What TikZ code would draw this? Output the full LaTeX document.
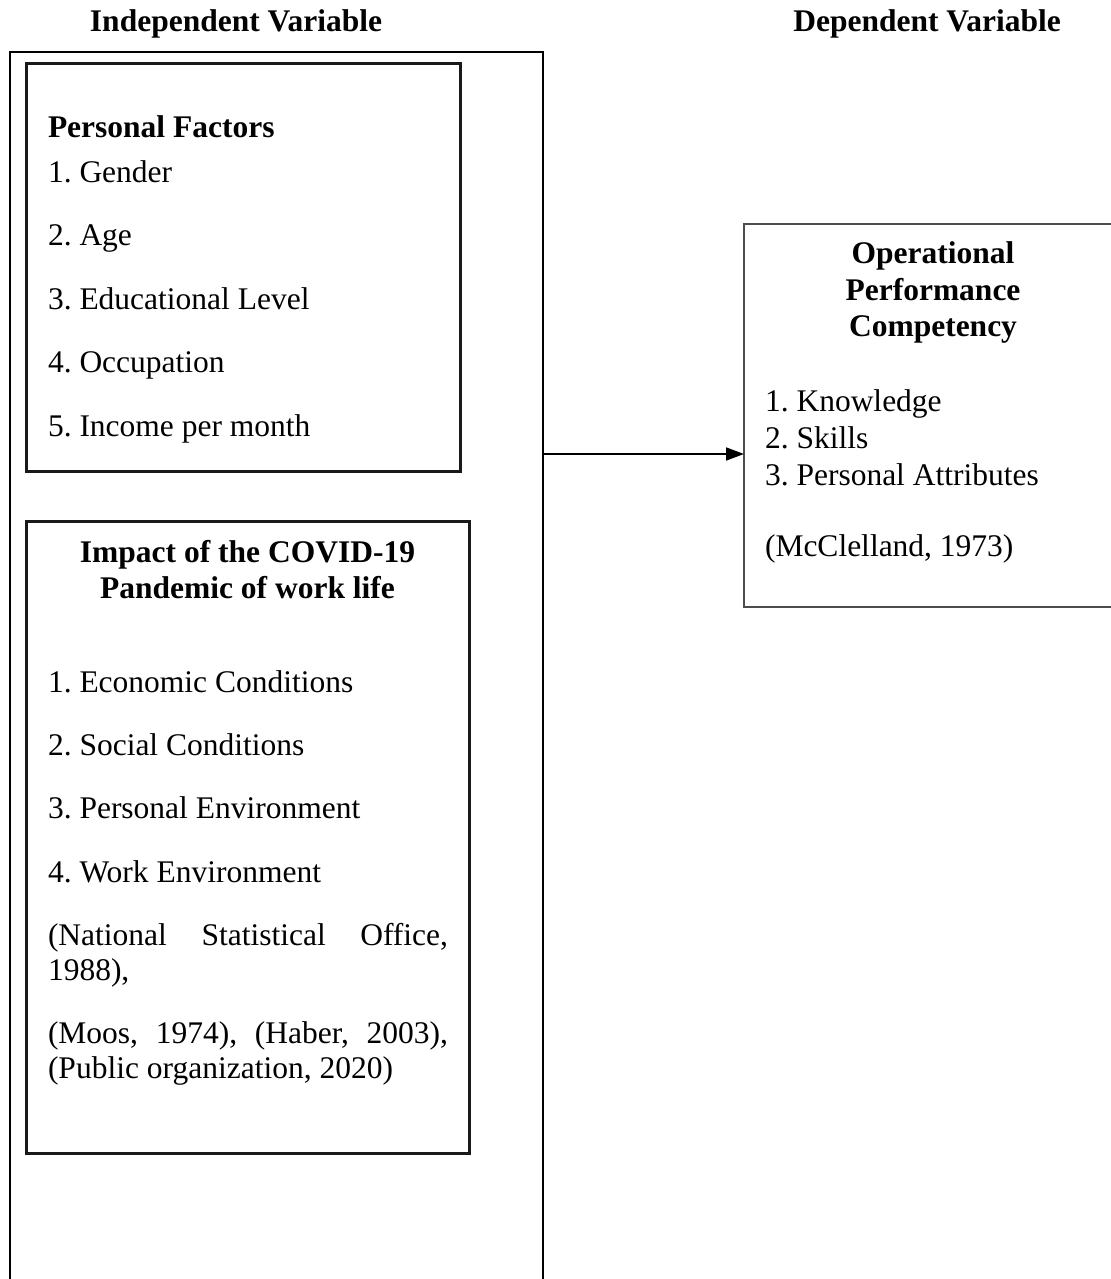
\documentclass[tikz,border=0pt]{standalone}
\usepackage{fontspec}
\setmainfont{Liberation Serif}
\usetikzlibrary{arrows.meta}
\frenchspacing
\begin{document}
\begin{tikzpicture}[x=0.5pt, y=-0.5pt,
  txt/.style={inner sep=0pt, outer sep=0pt, anchor=base west,
    font=\fontsize{15.75}{18.5}\selectfont},
  ctxt/.style={txt, anchor=base},
  btxt/.style={ctxt, font=\fontsize{15.75}{18.5}\selectfont\bfseries},
  outerline/.style={line width=1.1pt, black},
  innerline/.style={line width=1.5pt, black!90},
  depline/.style={line width=0.6pt, black!70},
  link/.style={line width=0.8pt, -{Triangle[length=9pt,width=6.5pt]}}]
\useasboundingbox (0,0) rectangle (1110,1279);

% column headings
\node[btxt] (indep) at (236,32) {Independent Variable};
\node[btxt] (dep) at (927,32) {Dependent Variable};

% frame of the independent variables (open at the bottom)
\draw[outerline] (10,1285) -- (10,52) -- (543,52) -- (543,1285);

% personal factors
\draw[innerline] (26,64) rectangle (460,471);
\node[txt, font=\fontsize{15.75}{18.5}\selectfont\bfseries] (pf) at (48,137) {Personal Factors};
\node[txt] (pf1) at (48,182) {1. Gender};
\node[txt] (pf2) at (48,245.5) {2. Age};
\node[txt] (pf3) at (48,309) {3. Educational Level};
\node[txt] (pf4) at (48,372.5) {4. Occupation};
\node[txt] (pf5) at (48,436) {5. Income per month};

% impact of the pandemic
\draw[innerline] (26,521) rectangle (469,1153);
\node[btxt] (im) at (247.5,562) {Impact of the COVID-19};
\node[btxt] (im2) at (247.5,598) {Pandemic of work life};
\node[txt] (im3) at (48,692) {1. Economic Conditions};
\node[txt] (im4) at (48,755) {2. Social Conditions};
\node[txt] (im5) at (48,818) {3. Personal Environment};
\node[txt] (im6) at (48,882) {4. Work Environment};
\node[txt] (ref1) at (48,945) {\hbox to 200pt{(National\hfill Statistical\hfill Office,}};
\node[txt] (ref2) at (48,980) {1988),};
\node[txt] (ref3) at (48,1043) {\hbox to 200pt{(Moos,\hfill 1974),\hfill (Haber,\hfill 2003),}};
\node[txt] (ref4) at (48,1078) {(Public organization, 2020)};

% dependent variable (box runs off the right edge)
\draw[depline] (1115,224) -- (744,224) -- (744,607) -- (1115,607);
\node[btxt] (op1) at (933,263.5) {Operational};
\node[btxt] (op2) at (933,300) {Performance};
\node[btxt] (op3) at (933,336.5) {Competency};
\node[txt] (op4) at (765,411) {1. Knowledge};
\node[txt] (op5) at (765,448) {2. Skills};
\node[txt] (op6) at (765,485) {3. Personal Attributes};
\node[txt] (op7) at (765,556) {(McClelland, 1973)};

% relation between the variables
\coordinate (indepE) at (543,454);
\coordinate (depW) at (744,454);
\draw[link] (indepE) -- (depW);
\end{tikzpicture}
\end{document}
